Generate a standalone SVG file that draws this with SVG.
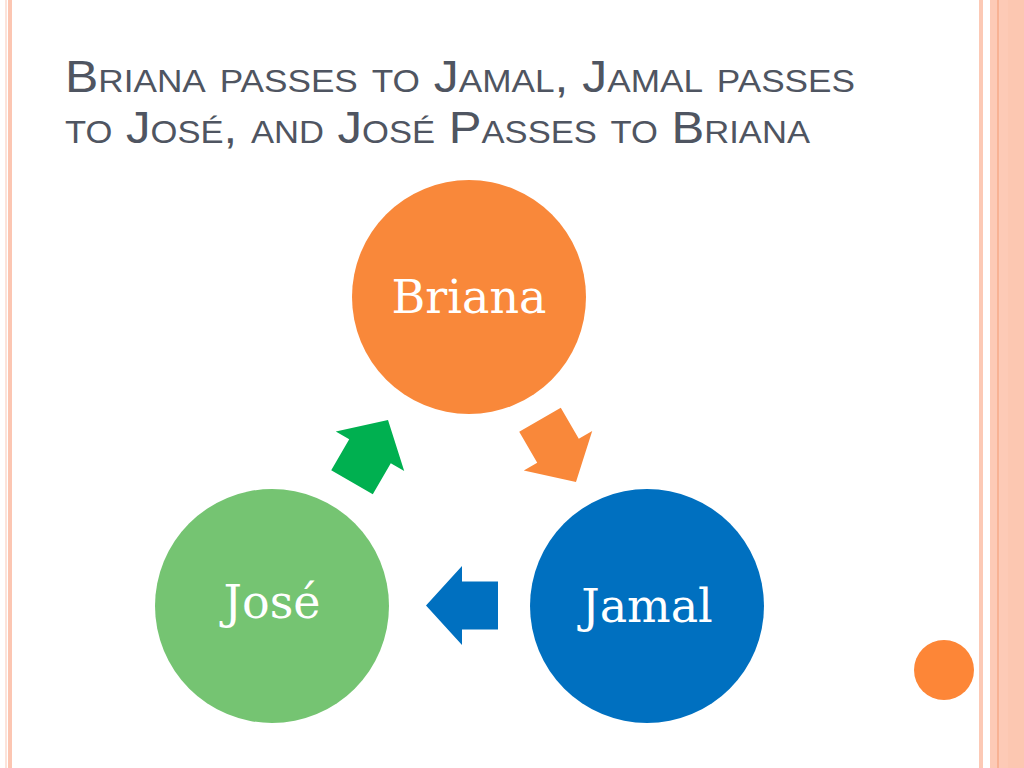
<svg xmlns="http://www.w3.org/2000/svg" xmlns:xlink="http://www.w3.org/1999/xlink" width="1024" height="768" viewBox="0 0 1024 768">
<style>
.title{font-family:"Liberation Sans","DejaVu Sans",sans-serif;font-size:44px;font-variant:small-caps;fill:#4f5561}
.lbl{font-family:"DejaVu Serif","Liberation Serif",serif;font-size:46px;fill:#ffffff;text-anchor:middle}
</style>
<defs>
<path id="arr" d="M0,0 L-36,-39.5 L-36,-24 L-72,-24 L-72,24 L-36,24 L-36,39.5 Z"/>
</defs>
<rect width="1024" height="768" fill="#ffffff"/>
<g id="border">
<rect x="5" y="0" width="2" height="768" fill="#fce3da"/>
<rect x="8" y="0" width="4" height="768" fill="#fcc6b2"/>
<rect x="979" y="0" width="4" height="768" fill="#fcc9b5"/>
<rect x="990" y="0" width="34" height="768" fill="#fdcab6"/>
<rect x="997.5" y="0" width="1" height="768" fill="#f49a72"/>
<rect x="1008" y="0" width="16" height="768" fill="#fcc7b1"/>
</g>
<g id="title">
<text class="title" x="65" y="92" textLength="790" lengthAdjust="spacingAndGlyphs">Briana passes to Jamal, Jamal passes</text>
<text class="title" x="65" y="143" textLength="745" lengthAdjust="spacingAndGlyphs">to José, and José Passes to Briana</text>
</g>
<g id="connectors">
<use xlink:href="#arr" fill="#f9883a" transform="translate(576,482) rotate(60)"/>
<use xlink:href="#arr" fill="#0070c0" transform="translate(426,605.5) rotate(180)"/>
<use xlink:href="#arr" fill="#00b050" transform="translate(388,420) rotate(-60)"/>
</g>
<g id="briana">
<circle cx="469" cy="297" r="117" fill="#f9883a"/>
<text class="lbl" x="469" y="313">Briana</text>
</g>
<g id="jamal">
<circle cx="647" cy="606" r="117" fill="#0070c0"/>
<text class="lbl" x="647" y="622">Jamal</text>
</g>
<g id="jose">
<circle cx="272" cy="606" r="117" fill="#75c472"/>
<text class="lbl" x="272" y="618">José</text>
</g>
<g id="dot">
<circle cx="944" cy="670" r="30" fill="#fd8637"/>
</g>
</svg>
